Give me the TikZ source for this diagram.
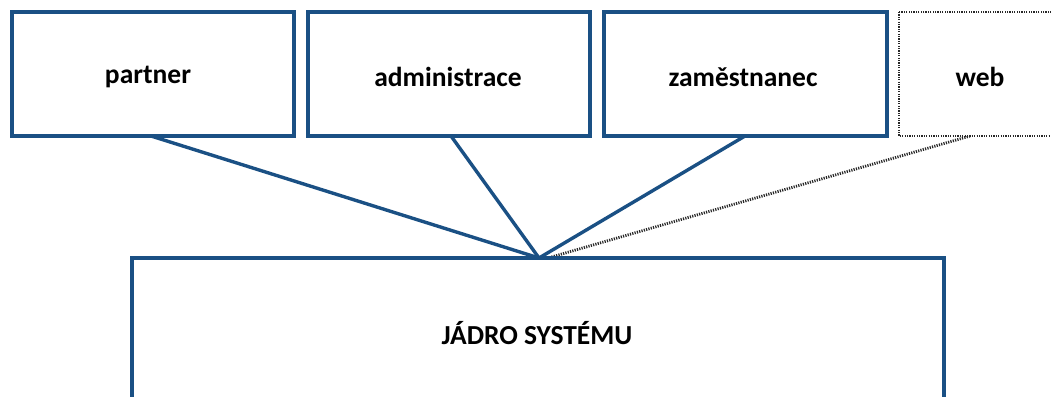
\documentclass[tikz,border=0pt]{standalone}
\usepackage{fontspec}
\setmainfont{Carlito}
\definecolor{frameblue}{RGB}{26,80,132}
\definecolor{dotgray}{RGB}{40,40,40}
\begin{document}
\begin{tikzpicture}[x=1pt,y=-1pt,
  box/.style={draw=frameblue,line width=3.4pt,fill=white},
  dotbox/.style={draw=dotgray,line width=2.8pt,dash pattern=on 1.2pt off 1.2pt,fill=white},
  link/.style={draw=frameblue,line width=3.4pt},
  dotlink/.style={draw=dotgray,line width=2.8pt,dash pattern=on 1.2pt off 1.2pt},
  lbl/.style={font=\bfseries\fontsize{27.5}{32}\selectfont,text=black}]
\useasboundingbox (0,0) rectangle (1051,396);
\coordinate (hub) at (539,258);
\coordinate (hubw) at (548,258);
\coordinate (pb) at (151,136);
\coordinate (ab) at (451,136);
\coordinate (zb) at (745,136);
\coordinate (wb) at (970,136);
\draw[link] (pb) -- (hub);
\draw[link] (ab) -- (hub);
\draw[link] (zb) -- (hub);
\draw[dotlink] (wb) -- (hubw);
\draw[box] (12,12) rectangle (294,136);
\node[lbl] (partner) at (148,77) {partner};
\draw[box] (308,12) rectangle (590,136);
\node[lbl] (admin) at (448,77) {administrace};
\draw[box] (604,12) rectangle (887,136);
\node[lbl] (zam) at (743,77) {zaměstnanec};
\draw[dotbox] (899,12) rectangle (1060,136);
\node[lbl] (web) at (980,77) {web};
\draw[box] (132,258) rectangle (944,410);
\node[lbl] (core) at (537,333) {JÁDRO SYSTÉMU};
\end{tikzpicture}
\end{document}
